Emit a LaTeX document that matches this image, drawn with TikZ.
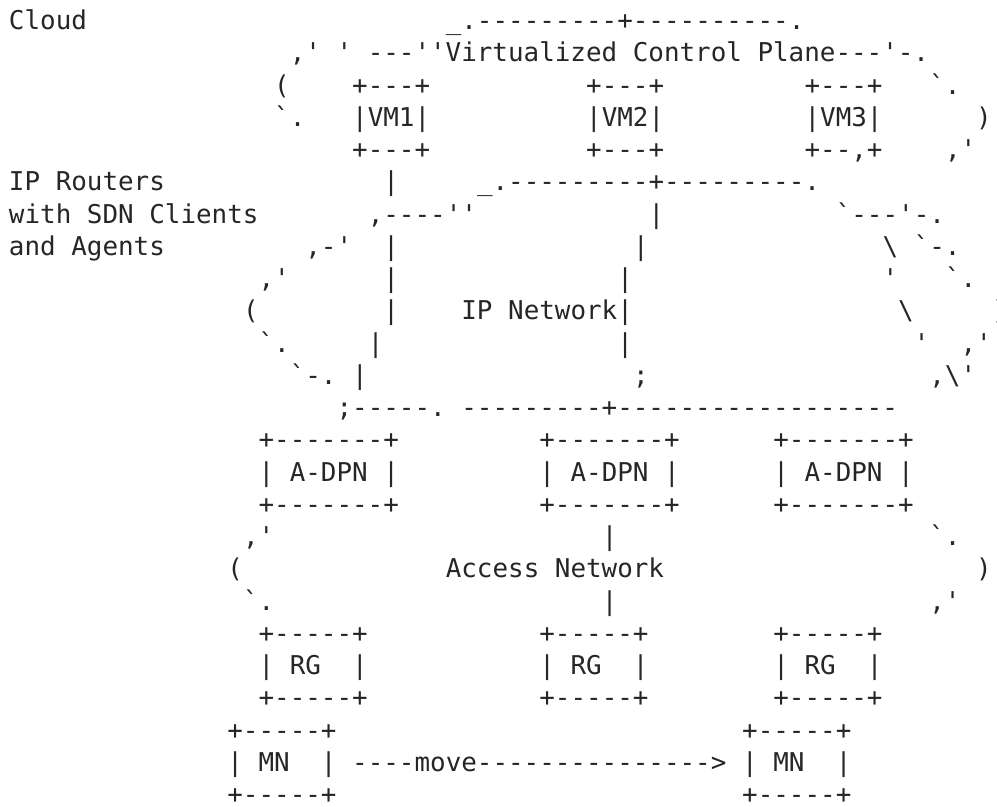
\documentclass[tikz,border=0pt]{standalone}
\usepackage{fontspec}
\setmonofont{DejaVu Sans Mono}
\tikzstyle{every picture}=[x=7.8pt,y=-16.13pt]
\tikzstyle{zeichen}=[anchor=base west,inner sep=0pt,outer sep=0pt,text=black!85,font=\ttfamily\fontsize{12.95}{16}\selectfont]

\begin{document}
\begin{tikzpicture}
			% Rahmen festlegen
			\fill[white] (-4.5pt,14.75pt) rectangle (494pt,-388.75pt);
			\useasboundingbox (-4.5pt,14.75pt) rectangle (494pt,-388.75pt);
			% Beschriftung links
			\node[zeichen] (cloud) at (0,0) {Cloud};
			\node[zeichen] (router1) at (0,5) {IP Routers};
			\node[zeichen] (router2) at (0,6) {with SDN Clients};
			\node[zeichen] (router3) at (0,7) {and Agents};
			% Wolke der Steuerebene
			\node[zeichen] (cptop) at (28,0) {\_.---------+----------.};
			\node[zeichen] (cp) at (18,1) {,' ' ---''Virtualized Control Plane---'-.};
			\node[zeichen] (cpl1) at (17,2) {(};
			\node[zeichen] (cpr1) at (59,2) {`.};
			\node[zeichen] (cpl2) at (17,3) {`.};
			\node[zeichen] (cpr2) at (62,3) {)};
			\node[zeichen] (cpr3) at (60,4) {,'};
			% VMs zeichnen
			\foreach \c/\n in {22/1,37/2,51/3} {
				\node[zeichen] (vmtop\n) at (\c,2) {+---+};
				\node[zeichen] (vm\n) at (\c,3) {|VM\n|};
			}
			\node[zeichen] (vmbot1) at (22,4) {+---+};
			\node[zeichen] (vmbot2) at (37,4) {+---+};
			\node[zeichen] (vmbot3) at (51,4) {+--,+};
			% IP-Netz zeichnen
			\node[zeichen] (ipv1) at (24,5) {|};
			\node[zeichen] (iptop) at (30,5) {\_.---------+---------.};
			\node[zeichen] (ipl1) at (23,6) {,----''};
			\node[zeichen] (ipv2) at (41,6) {|};
			\node[zeichen] (ipr1) at (53,6) {`---'-.};
			\node[zeichen] (ipl2) at (19,7) {,-'};
			\node[zeichen] (ipv3) at (24,7) {|};
			\node[zeichen] (ipv4) at (40,7) {|};
			\node[zeichen] (ipr2) at (56,7) {\textbackslash{} `-.};
			\node[zeichen] (ipl3) at (16,8) {,'};
			\node[zeichen] (ipv5) at (24,8) {|};
			\node[zeichen] (ipv6) at (39,8) {|};
			\node[zeichen] (ipr3) at (56,8) {'};
			\node[zeichen] (ipr4) at (60,8) {`.};
			\node[zeichen] (ipl4) at (15,9) {(};
			\node[zeichen] (ipv7) at (24,9) {|};
			\node[zeichen] (ipnet) at (29,9) {IP Network|};
			\node[zeichen] (ipr5) at (57,9) {\textbackslash};
			\node[zeichen] (ipr6) at (63,9) {)};
			\node[zeichen] (ipl5) at (16,10) {`.};
			\node[zeichen] (ipv8) at (23,10) {|};
			\node[zeichen] (ipv9) at (39,10) {|};
			\node[zeichen] (ipr7) at (58,10) {'};
			\node[zeichen] (ipr8) at (61,10) {,'};
			\node[zeichen] (ipl6) at (18,11) {`-.};
			\node[zeichen] (ipv10) at (22,11) {|};
			\node[zeichen] (ipv11) at (40,11) {;};
			\node[zeichen] (ipr9) at (59,11) {,\textbackslash'};
			\node[zeichen] (ipbot) at (21,12) {;-----. ---------+------------------};
			% A-DPN, Zugangsnetz und RG zeichnen
			\foreach \c/\n in {16/1,34/2,49/3} {
				\node[zeichen] (adpntop\n) at (\c,13) {+-------+};
				\node[zeichen] (adpn\n) at (\c,14) {|~A-DPN~|};
				\node[zeichen] (adpnbot\n) at (\c,15) {+-------+};
				\node[zeichen] (rgtop\n) at (\c,19) {+-----+};
				\node[zeichen] (rg\n) at (\c,20) {|~RG~~|};
				\node[zeichen] (rgbot\n) at (\c,21) {+-----+};
			}
			\node[zeichen] (anl1) at (15,16) {,'};
			\node[zeichen] (anv1) at (38,16) {|};
			\node[zeichen] (anr1) at (59,16) {`.};
			\node[zeichen] (anl2) at (14,17) {(};
			\node[zeichen] (an) at (28,17) {Access Network};
			\node[zeichen] (anr2) at (62,17) {)};
			\node[zeichen] (anl3) at (15,18) {`.};
			\node[zeichen] (anv2) at (38,18) {|};
			\node[zeichen] (anr3) at (59,18) {,'};
			% MN zeichnen
			\foreach \c/\n in {14/1,47/2} {
				\node[zeichen] (mntop\n) at (\c,22) {+-----+};
				\node[zeichen] (mn\n) at (\c,23) {|~MN~~|};
				\node[zeichen] (mnbot\n) at (\c,24) {+-----+};
			}
			\node[zeichen] (move) at (22,23) {----move--------------->};
		\end{tikzpicture}
\end{document}
